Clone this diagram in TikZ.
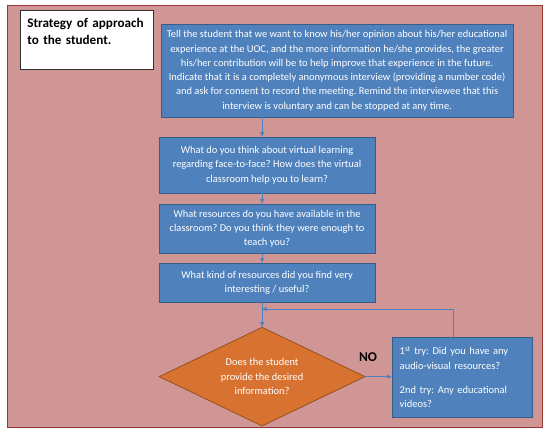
\documentclass[tikz,border=0pt]{standalone}
\usepackage{fontspec}
\setmainfont{Carlito}
\usepackage{tikz}
\usetikzlibrary{arrows.meta,positioning,shapes.geometric}
\definecolor{bgpink}{RGB}{208,150,150}
\definecolor{bgred}{RGB}{150,55,50}
\definecolor{qblue}{RGB}{79,129,189}
\definecolor{qblueedge}{RGB}{56,93,138}
\definecolor{qorange}{RGB}{216,114,48}
\definecolor{qorangeedge}{RGB}{150,80,30}
\frenchspacing

\begin{document}
\begin{tikzpicture}[
    qbox/.style={draw=qblueedge, fill=qblue, line width=0.8pt, align=center,
        text=white, font=\fontsize{10.5}{14.3}\selectfont, inner sep=2pt},
    decision/.style={diamond, draw=qorangeedge, fill=qorange, line width=0.8pt,
        align=center, text=white, font=\fontsize{10.5}{14.3}\selectfont,
        minimum width=7.27cm, minimum height=3.49cm, inner sep=0pt, aspect=2},
    flow/.style={-{Triangle[length=1.6mm, width=1.4mm]}, qblue, line width=0.8pt}
]
\useasboundingbox (0,0) rectangle (19.4,15.35);
\draw[bgred, fill=bgpink, line width=1pt] (0.25,0.28) rectangle (19.12,15.17);

\node[draw=black!80, fill=white, line width=0.6pt, anchor=north west,
    minimum width=4.62cm, minimum height=2.08cm, text width=4.2cm, align=left,
    inner xsep=7pt, inner ysep=6pt, text depth=1.22cm,
    font=\fontsize{13.2}{18}\selectfont\bfseries]
    (title) at (0.71,15.0) {\mbox{Strategy of approach}\\\mbox{to the student.}};

\node[qbox, minimum width=12.42cm, minimum height=3.28cm] (intro) at (11.89,12.86)
    {Tell the student that we want to know his/her opinion about his/her educational\\
     experience at the UOC, and the more information he/she provides, the greater\\
     his/her contribution will be to help improve that experience in the future.\\
     Indicate that it is a completely anonymous interview (providing a number code)\\
     and ask for consent to record the meeting. Remind the interviewee that this\\
     interview is voluntary and can be stopped at any time.};
\node[qbox, minimum width=7.62cm, minimum height=1.97cm] (virtual) at (9.42,9.53)
    {What do you think about virtual learning\\
     regarding face-to-face? How does the virtual\\
     classroom help you to learn?};
\node[qbox, minimum width=7.62cm, minimum height=1.73cm] (resources) at (9.42,7.285)
    {What resources do you have available in the\\
     classroom? Do you think they were enough to\\
     teach you?};
\node[qbox, minimum width=7.62cm, minimum height=1.38cm] (useful) at (9.42,5.38)
    {What kind of resources did you find very\\
     interesting / useful?};

\node[decision] (check) at (9.245,2.065)
    {Does the student\\provide the desired\\information?};
\node[qbox, minimum width=4.94cm, minimum height=2.82cm, text width=4.4cm,
    align=left] (retry) at (16.30,2.05)
    {1\textsuperscript{st} try: Did you have any\\
     audio-visual resources?\\[3.5mm]
     2nd try: Any educational\\
     videos?};
\node[font=\fontsize{13.5}{15}\selectfont\bfseries] (no) at (12.98,2.75) {NO};

\coordinate (loop) at (15.98,4.45);
\draw[flow] (intro.south -| check.north) -- (virtual.north -| check.north);
\draw[flow] (virtual.south -| check.north) -- (resources.north -| check.north);
\draw[flow] (resources.south -| check.north) -- (useful.north -| check.north);
\draw[flow] (useful.south -| check.north) -- (check.north);
\draw[flow] (check.east) -- (check.east -| retry.west);
\draw[flow] (retry.north -| loop) -- (loop) -- (loop -| check.north);
\end{tikzpicture}
\end{document}
